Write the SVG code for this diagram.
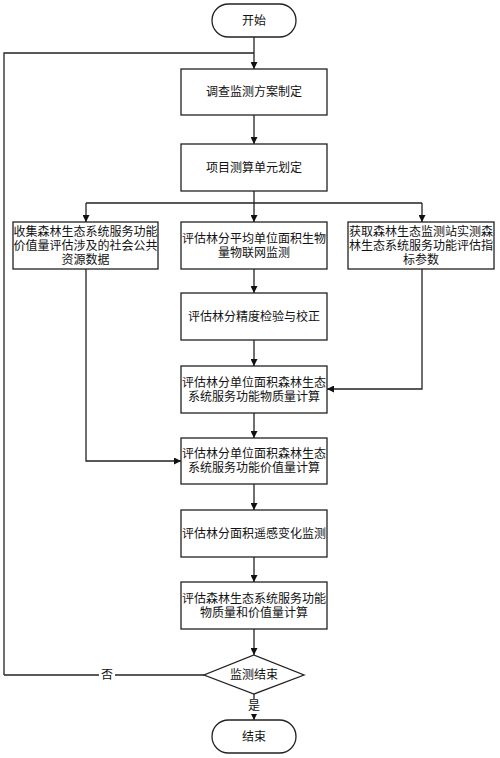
<svg xmlns="http://www.w3.org/2000/svg" width="500" height="758" viewBox="0 0 500 758">
<defs>
<marker id="ah" viewBox="0 0 10 10" refX="10" refY="5" markerWidth="7" markerHeight="7" markerUnits="userSpaceOnUse" orient="auto">
<path d="M0,0 L10,5 L0,10 Z" fill="#111"/>
</marker>
<style>
.n{fill:#fff;stroke:#222;stroke-width:1.3}
.c{fill:none;stroke:#222;stroke-width:1.3}
.a{fill:none;stroke:#222;stroke-width:1.3;marker-end:url(#ah)}
text{font-family:"Liberation Serif","Noto Sans CJK SC",serif;font-size:12px;fill:#111;text-anchor:middle;dominant-baseline:central}
</style>
</defs>
<rect width="500" height="758" fill="#fff"/>
<g id="connectors">
<path class="a" d="M254,37 V69"/>
<path class="c" d="M4,675 V53 H254"/>
<path class="a" d="M254,115 V144"/>
<path class="c" d="M254,191 V203 M86,203 H422"/>
<path class="a" d="M86,203 V222"/>
<path class="a" d="M254,203 V222"/>
<path class="a" d="M422,203 V222"/>
<path class="a" d="M254,269 V293"/>
<path class="a" d="M254,340 V366"/>
<path class="a" d="M422,269 V389 H327"/>
<path class="a" d="M254,413 V438"/>
<path class="a" d="M86,269 V461 H181"/>
<path class="a" d="M254,484 V510"/>
<path class="a" d="M254,557 V582"/>
<path class="a" d="M254,629 V655"/>
<path class="c" d="M4,675 H204"/>
<path class="a" d="M254,694 V720"/>
<rect x="99" y="667" width="16" height="16" fill="#fff"/>
<text x="107" y="675">否</text>
<rect x="246" y="699" width="16" height="15" fill="#fff"/>
<text x="254" y="706">是</text>
</g>
<g id="start"><rect class="n" x="212" y="4" width="84" height="33" rx="16.5"/><text x="254" y="20.5">开始</text></g>
<g id="n1"><rect class="n" x="181" y="69" width="146" height="46"/><text x="254" y="92">调查监测方案制定</text></g>
<g id="n2"><rect class="n" x="181" y="144" width="146" height="47"/><text x="254" y="167.5">项目测算单元划定</text></g>
<g id="n3"><rect class="n" x="13" y="222" width="145" height="47"/><text x="85.5" y="231.5">收集森林生态系统服务功能</text><text x="85.5" y="245.5">价值量评估涉及的社会公共</text><text x="85.5" y="259.5">资源数据</text></g>
<g id="n4"><rect class="n" x="181" y="222" width="146" height="47"/><text x="254" y="238.5">评估林分平均单位面积生物</text><text x="254" y="252.5">量物联网监测</text></g>
<g id="n5"><rect class="n" x="348" y="222" width="146" height="47"/><text x="421" y="231.5">获取森林生态监测站实测森</text><text x="421" y="245.5">林生态系统服务功能评估指</text><text x="421" y="259.5">标参数</text></g>
<g id="n6"><rect class="n" x="181" y="293" width="146" height="47"/><text x="254" y="316.5">评估林分精度检验与校正</text></g>
<g id="n7"><rect class="n" x="181" y="366" width="146" height="47"/><text x="254" y="382.5">评估林分单位面积森林生态</text><text x="254" y="396.5">系统服务功能物质量计算</text></g>
<g id="n8"><rect class="n" x="181" y="438" width="146" height="46"/><text x="254" y="454">评估林分单位面积森林生态</text><text x="254" y="468">系统服务功能价值量计算</text></g>
<g id="n9"><rect class="n" x="181" y="510" width="146" height="47"/><text x="254" y="533.5">评估林分面积遥感变化监测</text></g>
<g id="n10"><rect class="n" x="181" y="582" width="146" height="47"/><text x="254" y="598.5">评估森林生态系统服务功能</text><text x="254" y="612.5">物质量和价值量计算</text></g>
<g id="decision"><path class="n" d="M254,655 L304,675 L254,694 L204,675 Z"/><text x="254" y="675">监测结束</text></g>
<g id="end"><rect class="n" x="212" y="720" width="84" height="33" rx="16.5"/><text x="254" y="736.5">结束</text></g>
</svg>
